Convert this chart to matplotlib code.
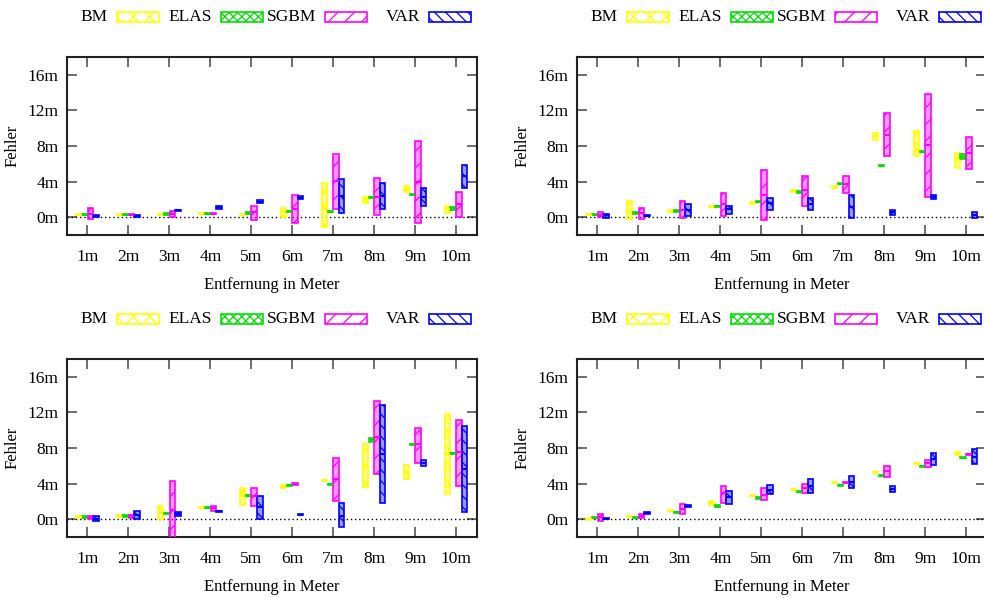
import matplotlib
matplotlib.use('Agg')
import matplotlib.pyplot as plt
from matplotlib.colors import to_rgba
from matplotlib.patches import Rectangle

plt.rcParams['font.family'] = ['Liberation Serif', 'DejaVu Serif']
plt.rcParams['font.size'] = 12
plt.rcParams['hatch.linewidth'] = 0.9

# Entfernungen (x-Achse)
distances = [1, 2, 3, 4, 5, 6, 7, 8, 9, 10]
dist_labels = ['1m', '2m', '3m', '4m', '5m', '6m', '7m', '8m', '9m', '10m']
ytick_vals = [0, 4, 8, 12, 16]
ytick_labels = ['0m', '4m', '8m', '12m', '16m']

methods = ['BM', 'ELAS', 'SGBM', 'VAR']

# (min, median, max) pro Entfernung
a_bm = [(0.2, 0.3, 0.38), (0.22, 0.3, 0.38), (0.22, 0.3, 0.38), (0.32, 0.4, 0.48), (0.22, 0.3, 0.38),
        (0.0, 0.6, 1.0), (-1.1, 1.4, 3.8), (1.6, 2.0, 2.3), (2.87, 3.2, 3.5), (0.48, 0.9, 1.23)]
a_elas = [(0.22, 0.3, 0.38), (0.22, 0.3, 0.38), (0.27, 0.35, 0.43), (0.32, 0.4, 0.48), (0.37, 0.45, 0.53),
          (0.57, 0.65, 0.73), (0.55, 0.63, 0.71), (2.16, 2.24, 2.32), (2.46, 2.54, 2.62), (0.85, 1.0, 1.1)]
a_sgbm = [(-0.2, 0.4, 1.0), (0.22, 0.3, 0.38), (0.0, 0.35, 0.7), (0.32, 0.4, 0.48), (-0.3, 0.6, 1.25),
          (-0.7, 0.9, 2.45), (0.93, 4.06, 7.12), (0.26, 2.27, 4.44), (-0.63, 3.98, 8.54), (0.04, 1.53, 2.87)]
a_var = [(0.0, 0.1, 0.2), (0.05, 0.12, 0.2), (0.7, 0.78, 0.85), (0.95, 1.1, 1.25), (1.6, 1.75, 1.9),
         (2.0, 2.2, 2.35), (0.49, 2.42, 4.33), (0.93, 2.4, 3.88), (1.31, 2.3, 3.32), (3.24, 4.59, 5.82)]

b_bm = [(0.2, 0.26, 0.32), (-0.22, 0.8, 1.83), (0.63, 0.7, 0.77), (1.17, 1.23, 1.3), (1.53, 1.6, 1.67),
        (2.88, 2.95, 3.02), (3.3, 3.4, 3.5), (8.73, 9.1, 9.48), (6.86, 8.2, 9.65), (5.52, 6.4, 7.24)]
b_elas = [(0.2, 0.27, 0.34), (0.41, 0.48, 0.55), (0.63, 0.7, 0.77), (1.17, 1.23, 1.3), (1.68, 1.75, 1.82),
          (2.77, 2.84, 2.91), (3.7, 3.77, 3.84), (5.71, 5.78, 5.85), (7.28, 7.35, 7.42), (6.53, 6.8, 7.09)]
b_sgbm = [(0.0, 0.3, 0.55), (-0.15, 0.5, 1.08), (-0.1, 0.8, 1.79), (0.15, 1.45, 2.69), (-0.37, 2.5, 5.34),
          (1.3, 3.02, 4.66), (2.72, 3.73, 4.59), (6.87, 9.29, 11.7), (2.28, 8.06, 13.84), (5.41, 7.2, 8.96)]
b_var = [(-0.04, 0.2, 0.37), (0.12, 0.19, 0.26), (0.15, 0.85, 1.45), (0.41, 0.9, 1.27), (0.86, 1.6, 2.2),
         (0.82, 1.5, 2.13), (-0.04, 1.2, 2.5), (0.22, 0.55, 0.86), (2.05, 2.3, 2.54), (-0.04, 0.3, 0.63)]

c_bm = [(0.19, 0.26, 0.33), (0.3, 0.37, 0.44), (0.0, 0.7, 1.46), (1.24, 1.31, 1.38), (1.6, 2.57, 3.51),
        (3.47, 3.65, 3.84), (4.3, 4.37, 4.44), (3.66, 5.97, 8.4), (4.51, 5.3, 6.12), (2.8, 7.31, 11.79)]
c_elas = [(0.19, 0.26, 0.33), (0.3, 0.37, 0.44), (0.6, 0.67, 0.74), (1.24, 1.31, 1.38), (2.58, 2.65, 2.72),
          (3.73, 3.8, 3.87), (3.85, 3.92, 3.99), (8.62, 8.9, 9.14), (8.33, 8.4, 8.47), (7.32, 7.39, 7.46)]
c_sgbm = [(0.07, 0.25, 0.41), (0.15, 0.33, 0.52), (-2.5, 1.0, 4.29), (0.97, 1.3, 1.49), (1.49, 2.6, 3.51),
          (3.89, 3.96, 4.03), (2.09, 4.48, 6.83), (5.11, 9.2, 13.25), (6.34, 8.4, 10.3), (3.73, 7.5, 11.19)]
c_var = [(-0.19, 0.05, 0.34), (0.0, 0.5, 0.97), (0.34, 0.6, 0.82), (0.83, 0.9, 0.97), (0.07, 1.4, 2.57),
         (0.45, 0.52, 0.59), (-0.93, 0.4, 1.87), (1.79, 7.35, 12.8), (6.0, 6.3, 6.6), (0.78, 5.6, 10.45)]

d_bm = [(0.0, 0.07, 0.14), (0.27, 0.34, 0.41), (0.93, 1.0, 1.07), (1.57, 1.8, 2.0), (2.58, 2.65, 2.72),
        (3.25, 3.32, 3.39), (4.03, 4.1, 4.17), (5.19, 5.26, 5.33), (6.16, 6.23, 6.3), (7.25, 7.39, 7.5)]
d_elas = [(0.12, 0.19, 0.26), (0.12, 0.19, 0.26), (0.71, 0.78, 0.85), (1.42, 1.49, 1.56), (2.32, 2.39, 2.46),
          (3.03, 3.1, 3.17), (3.73, 3.8, 3.87), (4.82, 4.89, 4.96), (5.86, 5.93, 6.0), (6.83, 6.9, 6.97)]
d_sgbm = [(-0.19, 0.2, 0.6), (0.19, 0.4, 0.6), (0.63, 1.1, 1.72), (1.79, 2.9, 3.69), (2.16, 2.7, 3.5),
          (2.9, 3.5, 3.99), (4.03, 4.1, 4.17), (4.78, 5.4, 5.93), (5.9, 6.3, 6.6), (7.21, 7.28, 7.35)]
d_var = [(0.0, 0.07, 0.14), (0.64, 0.71, 0.78), (1.42, 1.49, 1.56), (1.75, 2.5, 3.2), (2.8, 3.3, 3.8),
         (2.9, 3.7, 4.5), (3.5, 4.2, 4.89), (3.02, 3.4, 3.73), (6.12, 6.8, 7.43), (6.23, 7.0, 7.87)]

panels = [
    [a_bm, a_elas, a_sgbm, a_var],
    [b_bm, b_elas, b_sgbm, b_var],
    [c_bm, c_elas, c_sgbm, c_var],
    [d_bm, d_elas, d_sgbm, d_var],
]

colors = ['#ffff00', '#00e000', '#ff00ff', '#0000ff']
hatches = ['xx', 'xxxx', '//', '\\\\\\']
offsets = [-0.21, -0.07, 0.07, 0.21]
width = 0.13

# Achsenpositionen (Pixel aus der Vorlage)
W, H = 984, 598
ax_w, ax_h = 409.5 / W, 178 / H
positions = [
    (67 / W, 1 - 235 / H),
    (577 / W, 1 - 235 / H),
    (67 / W, 1 - 537 / H),
    (577 / W, 1 - 537 / H),
]

fig = plt.figure(figsize=(W / 100, H / 100), dpi=100)

for (left, bottom), data in zip(positions, panels):
    ax = fig.add_axes([left, bottom, ax_w, ax_h])

    for series, col, hat, off in zip(data, colors, hatches, offsets):
        xs = [d + off for d in distances]
        lo = [s[0] for s in series]
        med = [s[1] for s in series]
        hi = [s[2] for s in series]
        ax.bar(xs, [h - l for h, l in zip(hi, lo)], bottom=lo, width=width,
               facecolor=to_rgba(col, 0.4), edgecolor=col, hatch=hat, linewidth=1.2, zorder=3)
        ax.hlines(med, [x - width / 2 for x in xs], [x + width / 2 for x in xs],
                  colors=col, linewidth=1.5, zorder=4)

    ax.axhline(0, color='black', linestyle=(0, (1, 2)), linewidth=1, zorder=2)

    ax.set_xlim(0.5, 10.5)
    ax.set_ylim(-2, 18)
    ax.set_xticks(distances)
    ax.set_xticklabels(dist_labels)
    ax.set_yticks(ytick_vals)
    ax.set_yticklabels(ytick_labels)
    ax.tick_params(direction='in', length=7, width=1.2, color='#555555',
                   top=True, right=True, labelsize=12.5)
    ax.tick_params(axis='x', pad=10)
    ax.tick_params(axis='y', pad=6)
    for sp in ax.spines.values():
        sp.set_linewidth(1.5)
        sp.set_color('#222222')

    ax.set_xlabel('Entfernung in Meter', labelpad=9)
    ax.set_ylabel('Fehler', labelpad=5)

    # Legende im gnuplot-Stil: Text rechtsbündig, danach Musterkasten
    for k, (name, col, hat) in enumerate(zip(methods, colors, hatches)):
        bx = 50 / 409.5 + k * 104 / 409.5
        ax.text(bx - 9 / 409.5, 1.225, name, transform=ax.transAxes,
                ha='right', va='center', fontsize=12.5)
        ax.add_patch(Rectangle((bx, 1.225 - 5 / 178), 42 / 409.5, 10 / 178,
                               transform=ax.transAxes, clip_on=False,
                               facecolor='white', edgecolor=col, hatch=hat, linewidth=1.2))

fig.savefig('out.png', dpi=100)
